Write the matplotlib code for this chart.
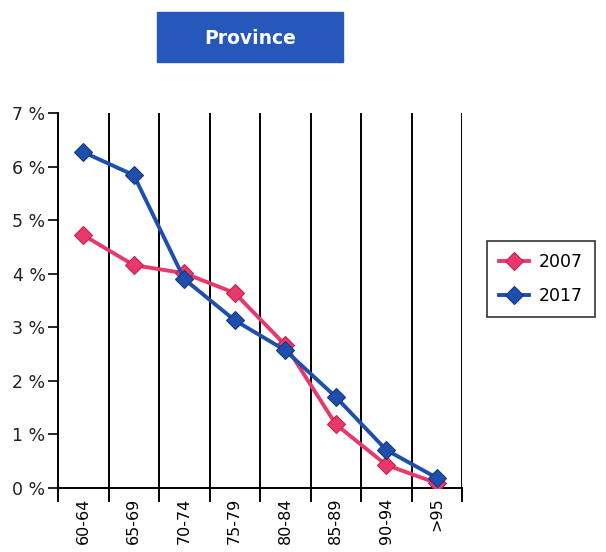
import matplotlib
matplotlib.use("Agg")
import matplotlib.pyplot as plt
import numpy as np
from matplotlib.ticker import FixedLocator, FuncFormatter

categories = ["60-64", "65-69", "70-74", "75-79", "80-84", "85-89", "90-94", ">95"]
values_2007 = [4.72, 4.16, 4.01, 3.64, 2.67, 1.19, 0.43, 0.09]
values_2017 = [6.27, 5.84, 3.90, 3.13, 2.57, 1.70, 0.71, 0.19]
y_ticks = [0, 1, 2, 3, 4, 5, 6, 7]

pink = "#E8386C"
blue = "#1F4FAE"

fig = plt.figure(figsize=(6.06, 5.52), dpi=100)
ax = fig.add_axes([58/606, 64/552, (462-58)/606, (488-113)/552])

x = np.arange(len(categories)) + 0.5
ax.plot(x, values_2007, color=pink, lw=2.8, marker="D", ms=9, mfc=pink, mec="#C8204F",
        mew=0.8, label="2007", zorder=3)
ax.plot(x, values_2017, color=blue, lw=2.8, marker="D", ms=9, mfc=blue, mec="#15397F",
        mew=0.8, label="2017", zorder=4)

ax.set_xlim(0, len(categories))
ax.set_ylim(0, 7)

# vertical lines at category boundaries
for b in range(1, len(categories) + 1):
    ax.axvline(b, color="black", lw=1.4, zorder=1)

ax.xaxis.set_major_locator(FixedLocator(list(range(0, len(categories) + 1))))
ax.xaxis.set_major_formatter(FuncFormatter(lambda v, p: ""))
ax.xaxis.set_minor_locator(FixedLocator(list(x)))
ax.set_xticklabels(categories, minor=True, rotation=90, fontsize=11.5)
ax.tick_params(axis="x", which="major", length=10, width=1.4, direction="out")
ax.tick_params(axis="x", which="minor", length=0, pad=7)

ax.set_yticks(y_ticks)
ax.set_yticklabels([f"{v} %" for v in y_ticks], fontsize=12.5, color="#222222")
ax.tick_params(axis="y", length=7, width=1.2, direction="out", pad=2)

for s in ["top", "right"]:
    ax.spines[s].set_visible(False)
ax.spines["left"].set_linewidth(1.4)
ax.spines["bottom"].set_linewidth(1.4)

leg = fig.legend(loc="center", bbox_to_anchor=(541/606, 1 - 279/552), fontsize=12.5,
                 frameon=True, fancybox=False, edgecolor="black", handlelength=1.7,
                 handletextpad=0.6, borderpad=0.7, labelspacing=0.9)
leg.get_frame().set_linewidth(1.2)

# title box
fig.patches.append(plt.Rectangle((157/606, 1 - 62/552), (343-157)/606, 50/552,
                                 transform=fig.transFigure, color="#2558BA", zorder=0))
fig.text(250/606, 1 - 38/552, "Province", color="white", fontsize=13.5, fontweight="bold",
         ha="center", va="center")

fig.savefig("out.png", dpi=100)
